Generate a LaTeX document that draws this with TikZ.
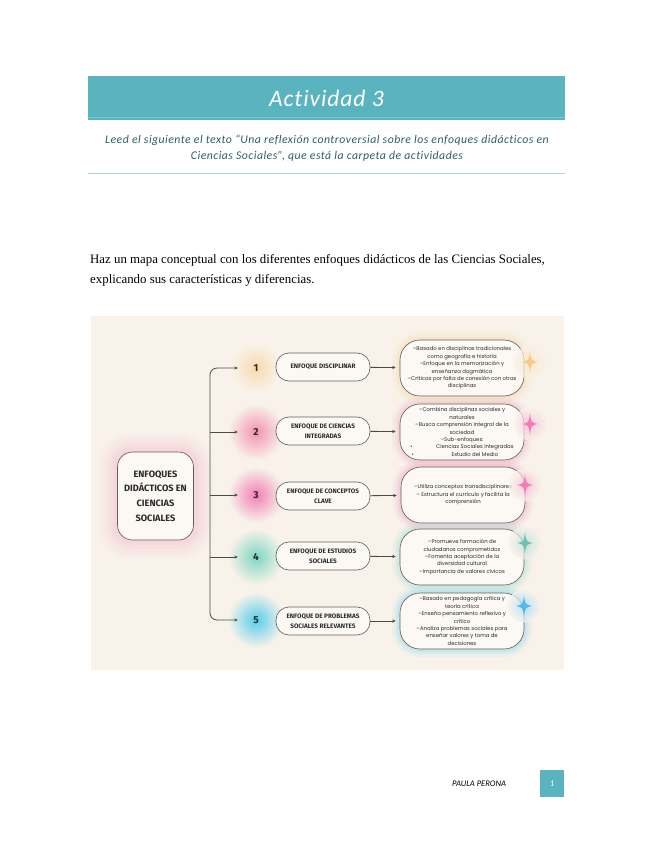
\documentclass[tikz,border=0pt]{standalone}
\usepackage{fontspec}
\setmainfont{Liberation Serif}
\newfontfamily\headfont{Carlito}
\newfontfamily\mapfont{Fira Sans}
\newfontfamily\notefont{Poppins}
\usepackage{tikz}
\usetikzlibrary{arrows.meta,positioning,calc}
\definecolor{actteal}{HTML}{5AB4BF}
\definecolor{actdark}{HTML}{2F5E66}
\definecolor{actline}{HTML}{A8D8DE}
\definecolor{mapcream}{HTML}{F8F2EA}
\definecolor{mapfill}{HTML}{FCF8F3}
\definecolor{mapink}{HTML}{2B2B2B}
\definecolor{glowhub}{HTML}{F6B3CA}
\definecolor{glowone}{HTML}{F9C98A}
\definecolor{glowtwo}{HTML}{F492B2}
\definecolor{glowthree}{HTML}{F27FB3}
\definecolor{glowfour}{HTML}{7FD6C2}
\definecolor{glowfive}{HTML}{59CDEB}
\newdimen\pxu \pxu=0.9344pt
\newcommand\notebullet[1]{\makebox[94pt]{\rlap{\textbullet}\hspace{24pt}\hfill#1\hfill}}
% four-point sparkle: position, half width, half height, colour
\newcommand\sparkle[4]{%
  \shade[inner color=#4!50, outer color=mapcream, opacity=0.7] (#1) circle (#3*1.5);
  \begin{scope}[shift={(#1)}]
    \fill[#4] (0,-#3) .. controls (0.14*#2,-0.14*#3) .. (#2,0)
      .. controls (0.14*#2,0.14*#3) .. (0,#3)
      .. controls (-0.14*#2,0.14*#3) .. (-#2,0)
      .. controls (-0.14*#2,-0.14*#3) .. (0,-#3) -- cycle;
  \end{scope}}

\begin{document}
\begin{tikzpicture}[x=\pxu, y=-\pxu,
    hubbox/.style={draw=mapink!75, line width=0.6pt, fill=mapfill, rounded corners=15\pxu, align=center,
                   minimum width=76\pxu, minimum height=88\pxu, text=mapink,
                   font=\mapfont\bfseries\fontsize{8.6}{13.8}\selectfont,
                   preaction={draw=glowhub, line width=38\pxu, opacity=0.06},
                   preaction={draw=glowhub, line width=31\pxu, opacity=0.06},
                   preaction={draw=glowhub, line width=24\pxu, opacity=0.08},
                   preaction={draw=glowhub, line width=17\pxu, opacity=0.10},
                   preaction={draw=glowhub, line width=10\pxu, opacity=0.14}},
    focusbox/.style={draw=mapink!75, line width=0.6pt, fill=mapfill, rounded corners=13\pxu, align=center,
                   minimum width=94\pxu, minimum height=28\pxu, inner sep=1pt, text=mapink,
                   font=\mapfont\bfseries\fontsize{6}{9}\selectfont},
    notebox/.style={draw=mapink!75, line width=0.6pt, fill=mapfill, rounded corners=20\pxu, align=center,
                   minimum width=124\pxu, minimum height=56\pxu, inner sep=1pt, text=mapink,
                   font=\notefont\fontsize{5}{6.9}\selectfont,
                   preaction={draw=#1, line width=16\pxu, opacity=0.07},
                   preaction={draw=#1, line width=11\pxu, opacity=0.09},
                   preaction={draw=#1, line width=6\pxu, opacity=0.14}},
    numtag/.style={circle, inner sep=0pt, minimum size=36\pxu, text=mapink,
                   font=\mapfont\bfseries\fontsize{9.5}{9.5}\selectfont},
    arr/.style={-{Stealth[length=3.2pt, width=3pt]}, line width=0.75pt, mapink!85}]
  \useasboundingbox (0,0) rectangle (655,848);
  \fill[white] (0,0) rectangle (655,848);

  % heading
  \node[fill=actteal, minimum width=477\pxu, minimum height=44\pxu, inner sep=0pt, text=white,
        font=\headfont\itshape\fontsize{22}{22}\selectfont\addfontfeatures{LetterSpace=4,Ligatures=NoCommon}] (banner) at (326.5,98) {Actividad 3};
  \draw[white, opacity=0.25, line width=0.8pt] ([yshift=3\pxu]banner.south west) -- ([yshift=3\pxu]banner.south east);
  \node[align=center, text=actdark, font=\headfont\itshape\fontsize{11}{15}\selectfont\addfontfeatures{LetterSpace=4,Ligatures=NoCommon}] (brief) at (327,148)
    {Leed el siguiente el texto “Una reflexión controversial sobre los enfoques didácticos en\\
     Ciencias Sociales”, que está la carpeta de actividades};
  \draw[actline, line width=0.9pt] (88,173) -- (565,173);

  \node[anchor=base west, inner sep=0pt, font=\fontsize{12}{14}\selectfont] (intro1) at (90,263)
    {Haz un mapa conceptual con los diferentes enfoques didácticos de las Ciencias Sociales,};
  \node[anchor=base west, inner sep=0pt, font=\fontsize{12}{14}\selectfont] (intro2) at (90,283)
    {explicando sus características y diferencias.};

  % concept map
  \fill[mapcream] (91,316) rectangle (564,670);
  \coordinate (row1) at (256,368);
  \coordinate (row2) at (256,432);
  \coordinate (row3) at (256,495);
  \coordinate (row4) at (256,557);
  \coordinate (row5) at (256,620);
  \shade[inner color=glowone!70, outer color=mapcream] (row1) circle (24);
  \shade[inner color=glowtwo, outer color=mapcream] (row2) circle (28);
  \shade[inner color=glowthree, outer color=mapcream] (row3) circle (28);
  \shade[inner color=glowfour, outer color=mapcream] (row4) circle (28);
  \shade[inner color=glowfive, outer color=mapcream] (row5) circle (28);

  \node[hubbox] (hub) at (155.5,496) {ENFOQUES\\DIDÁCTICOS EN\\CIENCIAS\\SOCIALES};
  \coordinate (trunk) at (210,495);

  \node[numtag] (n1) at (row1) {1};
  \node[numtag] (n2) at (row2) {2};
  \node[numtag] (n3) at (row3) {3};
  \node[numtag] (n4) at (row4) {4};
  \node[numtag] (n5) at (row5) {5};

  \node[focusbox] (f1) at (323,367) {ENFOQUE DISCIPLINAR};
  \node[focusbox] (f2) at (323,431) {ENFOQUE DE CIENCIAS\\INTEGRADAS};
  \node[focusbox] (f3) at (323,496) {ENFOQUE DE CONCEPTOS\\CLAVE};
  \node[focusbox] (f4) at (323,556) {ENFOQUE DE ESTUDIOS\\SOCIALES};
  \node[focusbox] (f5) at (323,621) {ENFOQUE DE PROBLEMAS\\SOCIALES RELEVANTES};

  \node[notebox=glowone] (d1) at (462,368)
    {–Basado en disciplinas tradicionales\\como geografía e historia\\–Enfoque en la memorización y\\enseñanza dogmática\\–Críticas por falta de conexión con otras\\disciplinas};
  \node[notebox=glowtwo] (d2) at (462,432)
    {–Combina disciplinas sociales y\\naturales\\–Busca comprensión integral de la\\sociedad\\–Sub-enfoques:\\\notebullet{Ciencias Sociales Integradas}\\\notebullet{Estudio del Medio}};
  \node[notebox=glowthree] (d3) at (463,495)
    {–Utiliza conceptos transdisciplinares\\– Estructura el currículo y facilita la\\comprensión};
  \node[notebox=glowfour] (d4) at (462,557)
    {–Promueve formación de\\ciudadanos comprometidos\\–Fomenta aceptación de la\\diversidad cultural\\–Importancia de valores cívicos};
  \node[notebox=glowfive] (d5) at (462,621)
    {–Basado en pedagogía crítica y\\teoría crítica\\–Enseña pensamiento reflexivo y\\crítico\\–Analiza problemas sociales para\\enseñar valores y toma de\\decisiones};

  \draw[arr, rounded corners=7\pxu] (trunk) |- (n1);
  \draw[arr] (trunk |- n2) -- (n2);
  \draw[arr] (trunk |- n3) -- (n3);
  \draw[arr] (trunk |- n4) -- (n4);
  \draw[arr, rounded corners=7\pxu] (trunk) |- (n5);
  \draw[arr, shorten >=4\pxu] (f1) -- (d1);
  \draw[arr, shorten >=4\pxu] (f2) -- (d2);
  \draw[arr, shorten >=4\pxu] (f3) -- (d3);
  \draw[arr, shorten >=4\pxu] (f4) -- (d4);
  \draw[arr, shorten >=4\pxu] (f5) -- (d5);

  \sparkle{530,362}{8}{11}{glowone}
  \sparkle{530,424}{8}{11}{glowthree}
  \sparkle{525,485}{8}{11}{glowthree}
  \sparkle{525,543}{8}{11}{glowfour!90!black}
  \sparkle{524,606}{8}{11}{glowfive!90!blue}

  % footer
  \node[fill=actteal, minimum width=24\pxu, minimum height=27\pxu, inner sep=0pt, text=white,
        font=\headfont\itshape\fontsize{8}{8}\selectfont] (pagebox) at (552,783.5) {1};
  \node[left=30\pxu of pagebox, font=\headfont\itshape\fontsize{8}{8}\selectfont] (author) {PAULA PERONA};
\end{tikzpicture}
\end{document}
